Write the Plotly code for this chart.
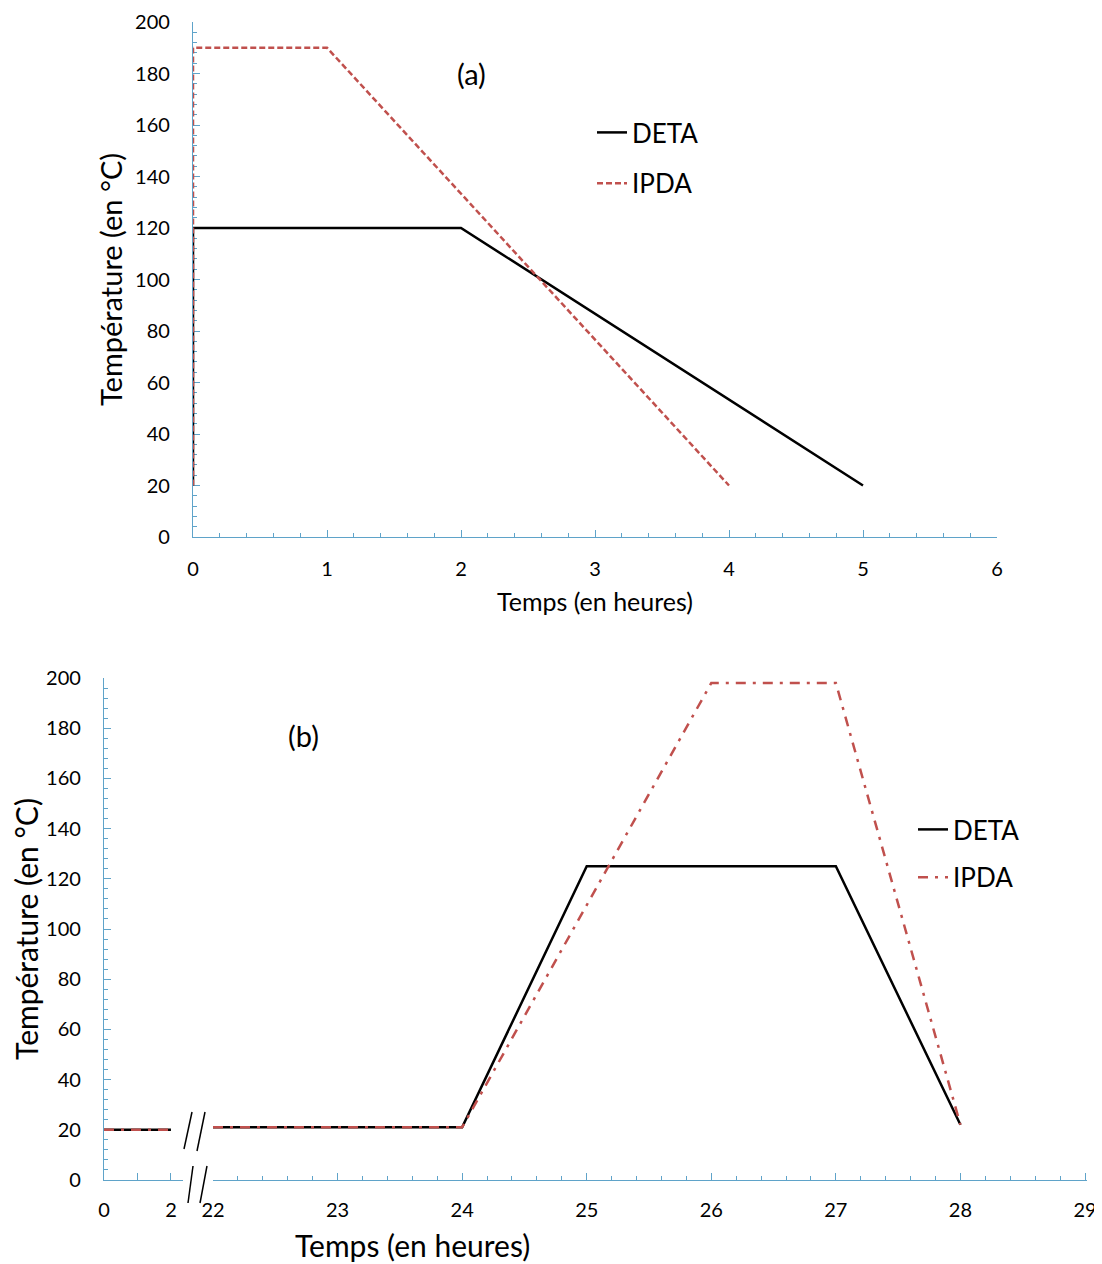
import plotly.graph_objects as go

OFF = 8  # page body margin
W, H = 1102 - OFF, 1264 - OFF
FONT = "Lato"
AXIS_COLOR = "#5fa3c9"
RED = "#c0504d"

# ---- (a) data ----
deta_a_time = [0, 0, 2, 5]
deta_a_temp = [20, 120, 120, 20]
ipda_a_time = [0, 0, 1, 4]
ipda_a_temp = [20, 190, 190, 20]

# ---- (b) data ----
deta_b_time = [0, 2, 22, 24, 25, 27, 28]
deta_b_temp = [20, 20, 21, 21, 125, 125, 22]
ipda_b_time = [0, 2, 22, 24, 26, 27, 28]
ipda_b_temp = [20, 20, 21, 21, 198, 198, 22]

# tick labels
a_xticks = [0, 1, 2, 3, 4, 5, 6]
y_ticks = [0, 20, 40, 60, 80, 100, 120, 140, 160, 180, 200]
b_xticks_left = [0, 1, 2]
b_xticktext_left = ["0", "", "2"]
b_xticks_right = [22, 23, 24, 25, 26, 27, 28, 29]


def px_x(p):
    return (p - OFF) / W


def px_y(p):
    return 1 - (p - OFF) / H


fig = go.Figure()

# (a)
fig.add_trace(go.Scatter(x=deta_a_time, y=deta_a_temp, mode="lines", name="DETA",
                         line=dict(color="black", width=2.5), xaxis="x", yaxis="y",
                         legend="legend", legendgroup="a1"))
fig.add_trace(go.Scatter(x=ipda_a_time, y=ipda_a_temp, mode="lines", name="IPDA",
                         line=dict(color=RED, width=2.5, dash="6px,3px"), xaxis="x", yaxis="y",
                         legend="legend", legendgroup="a2"))

# (b) split by axis break
def split(t, v):
    left = [(a, b) for a, b in zip(t, v) if a <= 2]
    right = [(a, b) for a, b in zip(t, v) if a >= 22]
    return left, right

dl, dr = split(deta_b_time, deta_b_temp)
il, ir = split(ipda_b_time, ipda_b_temp)
ipda_dash = "10px,7px,3px,7px"

fig.add_trace(go.Scatter(x=[p[0] for p in dl], y=[p[1] for p in dl], mode="lines",
                         line=dict(color="black", width=2.5), xaxis="x2", yaxis="y2",
                         showlegend=False))
fig.add_trace(go.Scatter(x=[p[0] for p in il], y=[p[1] for p in il], mode="lines",
                         line=dict(color=RED, width=2.5, dash=ipda_dash), xaxis="x2", yaxis="y2",
                         showlegend=False))
fig.add_trace(go.Scatter(x=[p[0] for p in dr], y=[p[1] for p in dr], mode="lines", name="DETA",
                         line=dict(color="black", width=2.5), xaxis="x3", yaxis="y2",
                         legend="legend2", legendgroup="b1"))
fig.add_trace(go.Scatter(x=[p[0] for p in ir], y=[p[1] for p in ir], mode="lines", name="IPDA",
                         line=dict(color=RED, width=2.5, dash=ipda_dash), xaxis="x3", yaxis="y2",
                         legend="legend2", legendgroup="b2"))

tickfont = dict(family=FONT, size=20, color="black")
common = dict(showline=True, linecolor=AXIS_COLOR, linewidth=1.2, ticks="inside",
              tickcolor=AXIS_COLOR, ticklen=7, tickwidth=1, showgrid=False, zeroline=False,
              tickfont=tickfont, automargin=False, layer="below traces",
              ticklabeloverflow="allow")

fig.update_layout(
    width=W, height=H,
    margin=dict(l=0, r=0, t=0, b=0, autoexpand=False),
    paper_bgcolor="white", plot_bgcolor="white",
    font=dict(family=FONT, color="black"),
    xaxis=dict(domain=[px_x(193), px_x(997)], range=[0, 6], anchor="y",
               tickvals=a_xticks, ticklabelstandoff=14,
               minor=dict(ticks="inside", dtick=0.2, ticklen=4, tickcolor=AXIS_COLOR),
               title=dict(text="Temps (en heures)", font=dict(family=FONT, size=25), standoff=14),
               **common),
    yaxis=dict(domain=[px_y(537), px_y(22)], range=[0, 200], anchor="x",
               tickvals=y_ticks, ticklabelstandoff=18,
               minor=dict(ticks="inside", dtick=4, ticklen=4, tickcolor=AXIS_COLOR),
               title=dict(text="Température (en °C)", font=dict(family=FONT, size=29), standoff=3),
               **common),
    xaxis2=dict(domain=[px_x(104), px_x(183)], range=[0, 2.36], anchor="y2",
                tickvals=b_xticks_left, ticktext=b_xticktext_left, ticklabelstandoff=12,
                **common),
    xaxis3=dict(domain=[px_x(213), px_x(1087)], range=[22, 29.016], anchor="y2",
                tickvals=b_xticks_right, ticklabelstandoff=12,
                minor=dict(ticks="inside", dtick=0.2, ticklen=4, tickcolor=AXIS_COLOR),
                **common),
    yaxis2=dict(domain=[px_y(1180), px_y(678)], range=[0, 200], anchor="x2",
                tickvals=y_ticks, ticklabelstandoff=18,
                minor=dict(ticks="inside", dtick=4, ticklen=4, tickcolor=AXIS_COLOR),
                title=dict(text="Température (en °C)", font=dict(family=FONT, size=30), standoff=8),
                **common),
    legend=dict(x=px_x(592), y=px_y(109), xanchor="left", yanchor="top",
                font=dict(family=FONT, size=26), bgcolor="rgba(0,0,0,0)",
                tracegroupgap=14, itemwidth=30),
    legend2=dict(x=px_x(913), y=px_y(806), xanchor="left", yanchor="top",
                 font=dict(family=FONT, size=26), bgcolor="rgba(0,0,0,0)",
                 tracegroupgap=11, itemwidth=30),
    showlegend=True,
)

ann = dict(xref="paper", yref="paper", showarrow=False, xanchor="center", yanchor="middle")
fig.add_annotation(text="(a)", x=px_x(472), y=px_y(73), font=dict(family=FONT, size=29), **ann)
fig.add_annotation(text="(b)", x=px_x(303), y=px_y(735), font=dict(family=FONT, size=29), **ann)
fig.add_annotation(text="Temps (en heures)", x=px_x(412), y=px_y(1245),
                   font=dict(family=FONT, size=30), **ann)

# axis break marks "//"
for (x0, y0, x1, y1) in [(184, 1149, 192, 1112), (197, 1151, 205, 1112),
                         (188, 1203, 193, 1166), (200, 1203, 207, 1166)]:
    fig.add_shape(type="line", xref="paper", yref="paper",
                  x0=px_x(x0), y0=px_y(y0), x1=px_x(x1), y1=px_y(y1),
                  line=dict(color="black", width=1.5))

fig.write_html("out.html")
